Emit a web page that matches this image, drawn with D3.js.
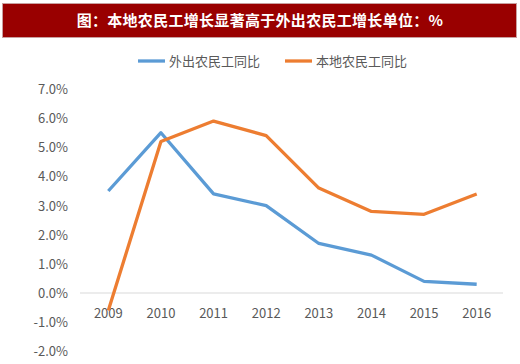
<!DOCTYPE html>
<html><head><meta charset="utf-8">
<script src="https://cdn.jsdelivr.net/npm/d3@7"></script>
<style>body{margin:0;background:#fff}svg{display:block}</style>
</head><body>
<script>
const title = "图：本地农民工增长显著高于外出农民工增长单位：%";
const years = ["2009","2010","2011","2012","2013","2014","2015","2016"];
const seriesNames = ["外出农民工同比","本地农民工同比"];
const waichu = [3.5, 5.5, 3.4, 3.0, 1.7, 1.3, 0.4, 0.3];
const bendi = [-0.6, 5.2, 5.9, 5.4, 3.6, 2.8, 2.7, 3.4];
const yTicks = [-2,-1,0,1,2,3,4,5,6,7];
const colors = ["#5B9BD5","#ED7D31"];

const W=520,H=364;
const svg=d3.select("body").append("svg").attr("width",W).attr("height",H);
svg.append("rect").attr("x",2.5).attr("y",3.5).attr("width",514).attr("height",34)
  .attr("fill","#990000").attr("stroke","#c9a0a0").attr("stroke-width",1);
svg.append("text").attr("x",260).attr("y",26).attr("text-anchor","middle")
  .attr("fill","#fff").attr("font-size",15).attr("font-weight","bold")
  .attr("letter-spacing",0.3)
  .attr("font-family","'Noto Sans CJK SC',sans-serif").text(title);

const x=d3.scaleBand().domain(years).range([82,503]);
const y=d3.scaleLinear().domain([-2,7]).range([351.3,89]);

const font="'Noto Sans CJK SC','DejaVu Sans',sans-serif";
const yAxis=svg.append("g").attr("transform","translate(68,0)")
  .call(d3.axisLeft(y).tickValues(yTicks).tickSize(0).tickPadding(0).tickFormat(d=>d.toFixed(1)+"%"));
yAxis.select(".domain").remove();
yAxis.selectAll("text").attr("fill","#595959").attr("font-size",13).attr("font-family",font).attr("dy","0.35em");

svg.append("line").attr("x1",80).attr("x2",503).attr("y1",y(0)).attr("y2",y(0))
  .attr("stroke","#d9d9d9").attr("stroke-width",1);

const xAxis=svg.append("g").attr("transform","translate(0,313)")
  .call(d3.axisBottom(x).tickSize(0).tickPadding(0));
xAxis.select(".domain").remove();
xAxis.selectAll("text").attr("fill","#595959").attr("font-size",13).attr("font-family",font).attr("dy","0.35em");

const line=d3.line().x((d,i)=>x(years[i])+x.bandwidth()/2).y(d=>y(d));
[waichu,bendi].forEach((s,k)=>{
  svg.append("path").datum(s).attr("d",line).attr("fill","none")
    .attr("stroke",colors[k]).attr("stroke-width",3.3).attr("stroke-linejoin","round");
});

const legX=[138,285];
seriesNames.forEach((n,k)=>{
  svg.append("line").attr("x1",legX[k]).attr("x2",legX[k]+27).attr("y1",61).attr("y2",61)
    .attr("stroke",colors[k]).attr("stroke-width",3.3);
  svg.append("text").attr("x",legX[k]+31).attr("y",61).attr("dy","0.35em")
    .attr("fill","#595959").attr("font-size",13).attr("font-family",font).text(n);
});
</script>
</body></html>
